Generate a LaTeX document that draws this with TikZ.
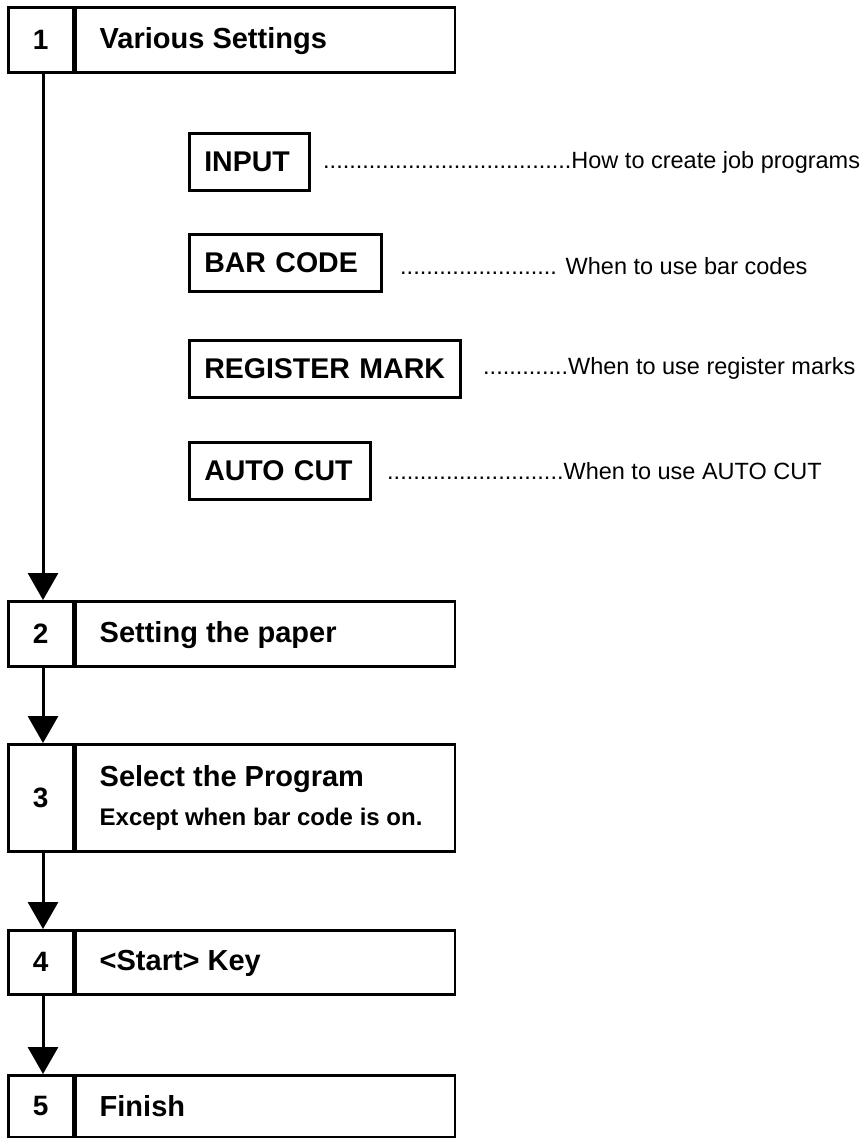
\documentclass[tikz,border=0pt]{standalone}
\usepackage{fontspec}
\setmainfont{Liberation Sans}
\usetikzlibrary{arrows.meta,positioning}

\begin{document}
\begin{tikzpicture}[x=1pt,y=-1pt,
  % number cell on the left of each step
  numcell/.style={draw, line width=2.5pt, rectangle, inner sep=0pt,
    minimum width=65pt, minimum height=#1, anchor=north west,
    font=\fontsize{28}{34}\selectfont\bfseries},
  % wide cell that frames the step title
  titlecell/.style={draw, line width=2.5pt, rectangle, inner sep=0pt,
    minimum width=379pt, minimum height=#1, anchor=north west},
  titletext/.style={inner sep=0pt, anchor=west, align=left,
    font=\fontsize{29}{35}\selectfont\bfseries},
  % option keys listed under step 1
  optbox/.style={draw, line width=2.5pt, rectangle, inner ysep=0pt,
    inner xsep=15pt, text width=#1, align=left, minimum height=57pt,
    anchor=west, font=\fontsize{28.5}{34}\selectfont\bfseries},
  note/.style={inner sep=0pt, anchor=base west,
    font=\fontsize{23.5}{28}\selectfont},
  flow/.style={line width=3pt, -{Triangle[width=30pt,length=27pt]}}
]
\useasboundingbox (0,0) rectangle (867,1138);

\coordinate (spine) at (43,0);

% step 1
\node[numcell=65pt] (n1) at (7,6) {1};
\node[titlecell=65pt] (t1) at (n1.north east) {};
\node[titletext] (l1) at ([xshift=25pt,yshift=-1pt]t1.west) {Various Settings};

% option keys and what they are for
\node[optbox=90pt]  (input) at (188,162) {INPUT};
\node[optbox=162pt] (bar)   at (188,263) {BAR CODE};
\node[optbox=241pt] (reg)   at (188,369) {REGISTER MARK};
\node[optbox=151pt] (auto)  at (188,471) {AUTO CUT};

\node[note] (dinput) at (323,168) {......................................How to create job programs};
\node[note] (dbar)   at (400,274) {........................ When to use bar codes};
\node[note] (dreg)   at (483,374) {.............When to use register marks};
\node[note] (dauto)  at (387,479) {...........................When to use AUTO CUT};

% step 2
\node[numcell=65pt] (n2) at (7,600) {2};
\node[titlecell=65pt] (t2) at (n2.north east) {};
\node[titletext] (l2) at ([xshift=25pt,yshift=-1pt]t2.west) {Setting the paper};

% step 3
\node[numcell=107pt] (n3) at (7,743) {3};
\node[titlecell=107pt] (t3) at (n3.north east) {};
\node[titletext] (l3) at ([xshift=25pt]t3.west)
  {Select the Program\\[4pt]{\fontsize{24}{29}\selectfont Except when bar code is on.}};

% step 4
\node[numcell=64pt] (n4) at (7,929) {4};
\node[titlecell=64pt] (t4) at (n4.north east) {};
\node[titletext] (l4) at ([xshift=25pt,yshift=-1pt]t4.west) {<Start> Key};

% step 5
\node[numcell=62pt] (n5) at (7,1074) {5};
\node[titlecell=62pt] (t5) at (n5.north east) {};
\node[titletext] (l5) at ([xshift=25pt]t5.west) {Finish};

% flow between the steps
\draw[flow] (n1.south -| spine) -- (n2.north -| spine);
\draw[flow] (n2.south -| spine) -- (n3.north -| spine);
\draw[flow] (n3.south -| spine) -- (n4.north -| spine);
\draw[flow] (n4.south -| spine) -- (n5.north -| spine);
\end{tikzpicture}
\end{document}
